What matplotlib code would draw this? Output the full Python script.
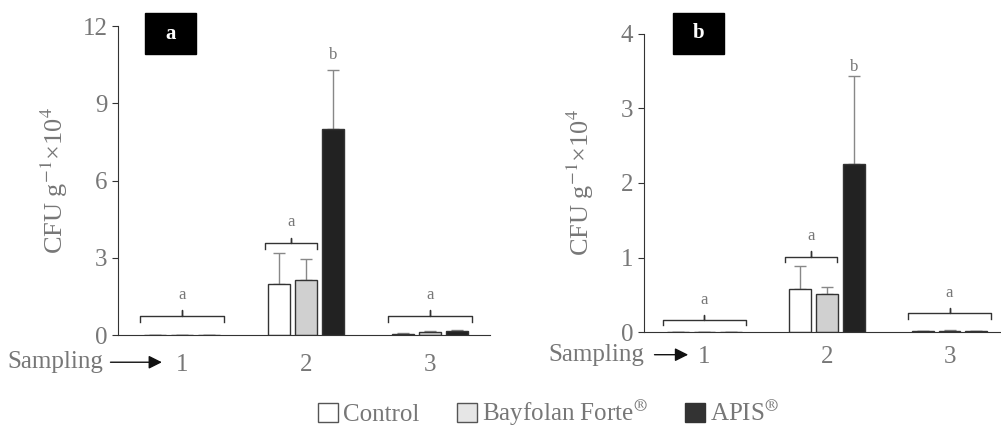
import matplotlib.pyplot as plt
from matplotlib.patches import Patch, Rectangle
import numpy as np

plt.rcParams["font.family"] = ["Liberation Serif", "DejaVu Serif"]
plt.rcParams["mathtext.fontset"] = "stix"

samplings = ["1", "2", "3"]
treatments = ["Control", "Bayfolan Forte$^{\u00ae}$", "APIS$^{\u00ae}$"]

# panel a (CFU g-1 x 10^4)
a_control = [0.01, 2.0, 0.05]
a_bayfolan = [0.01, 2.15, 0.10]
a_apis = [0.01, 8.0, 0.15]
a_control_err = [0.0, 1.17, 0.02]
a_bayfolan_err = [0.0, 0.79, 0.04]
a_apis_err = [0.0, 2.3, 0.05]

# panel b
b_control = [0.005, 0.58, 0.01]
b_bayfolan = [0.0, 0.51, 0.02]
b_apis = [0.005, 2.26, 0.01]
b_control_err = [0.0, 0.30, 0.005]
b_bayfolan_err = [0.0, 0.10, 0.01]
b_apis_err = [0.0, 1.18, 0.005]

# significance letters: (center x, half width, bracket y, letter)
a_brackets = [(1.0, 0.34, 0.74, "a"), (1.88, 0.21, 3.57, "a"), (3.0, 0.34, 0.74, "a")]
b_brackets = [(1.0, 0.34, 0.16, "a"), (1.87, 0.21, 1.01, "a"), (3.0, 0.34, 0.25, "a")]

FILLS = ["white", "#d0d0d0", "#222222"]
EDGE = "#333333"
GREY = "#777777"


def draw_panel(ax, series, errs, brackets, ymax, step, label, xlim, b_letter_y,
               samp, box, xpad, ypad):
    x = np.arange(1, len(samplings) + 1)
    w = 0.177
    gap = 0.218
    for i, (vals, err) in enumerate(zip(series, errs)):
        pos = x + (i - 1) * gap
        ax.bar(pos, vals, width=w, color=FILLS[i], edgecolor=EDGE, linewidth=1, zorder=2)
        ax.errorbar(pos, vals, yerr=[np.zeros(len(err)), err], fmt="none",
                    ecolor="#888888", elinewidth=1, capsize=4, capthick=1, zorder=1)

    d = ymax * 0.018
    for cx, hw, by, letter in brackets:
        ax.plot([cx - hw, cx - hw, cx, cx, cx, cx + hw, cx + hw],
                [by - d, by, by, by + d, by, by, by - d],
                color=EDGE, lw=1, clip_on=False)
        ax.text(cx, by + 2.3 * d, letter, ha="center", va="bottom",
                fontsize=12, color=GREY)

    # letter above the APIS bar at sampling 2
    ax.text(2 + gap, b_letter_y, "b", ha="center", va="bottom", fontsize=12, color=GREY)

    ax.set_xlim(*xlim)
    ax.set_ylim(0, ymax)
    ax.set_yticks(np.arange(0, ymax + 0.01, step))
    ax.set_xticks(x)
    ax.set_xticklabels(samplings)
    ax.tick_params(axis="x", length=0, pad=xpad, labelsize=18, labelcolor=GREY)
    ax.tick_params(axis="y", length=4, direction="out", labelsize=18,
                   labelcolor=GREY, color=EDGE)
    for s in ["top", "right"]:
        ax.spines[s].set_visible(False)
    ax.spines["left"].set_color(EDGE)
    ax.spines["bottom"].set_color(EDGE)
    ax.set_ylabel("CFU g$^{-1}$\u00d710$^{4}$", fontsize=19, color=GREY, labelpad=ypad)

    trans = ax.get_xaxis_transform()
    ax.text(samp[0], samp[3], "Sampling", ha="right", va="center",
            fontsize=18, color=GREY, transform=trans)
    ax.annotate("", xy=(samp[2], samp[3]), xytext=(samp[1], samp[3]),
                xycoords=trans, textcoords=trans,
                arrowprops=dict(arrowstyle="-|>", color="#111111", lw=1,
                                mutation_scale=20))

    ax.add_patch(Rectangle((box[0], box[1]), box[2], box[3], transform=ax.transAxes,
                           facecolor="black", edgecolor="black", clip_on=False))
    ax.text(box[0] + box[2] / 2, box[1] + box[3] / 2, label, transform=ax.transAxes,
            ha="center", va="center", fontsize=15, fontweight="bold", color="white")


fig = plt.figure(figsize=(10.01, 4.29), dpi=100)
ax_a = fig.add_axes([0.118, 0.219, 0.372, 0.720])
ax_b = fig.add_axes([0.643, 0.226, 0.357, 0.695])

draw_panel(ax_a, [a_control, a_bayfolan, a_apis],
           [a_control_err, a_bayfolan_err, a_apis_err],
           a_brackets, 12, 3, "a", (0.484, 3.49), 10.55,
           (0.365, 0.40, 0.86, -0.088), (0.073, 0.909, 0.137, 0.133), 14, 9)
draw_panel(ax_b, [b_control, b_bayfolan, b_apis],
           [b_control_err, b_bayfolan_err, b_apis_err],
           b_brackets, 4, 1, "b", (0.504, 3.42), 3.45,
           (0.512, 0.57, 0.89, -0.076), (0.081, 0.933, 0.143, 0.137), 10, 18)

handles = [Patch(facecolor="white", edgecolor="#555555"),
           Patch(facecolor="#e6e6e6", edgecolor="#555555"),
           Patch(facecolor="#333333", edgecolor="#333333")]
leg = fig.legend(handles, treatments, loc="center", bbox_to_anchor=(0.548, 0.037),
                 ncol=3, frameon=False, fontsize=18, handlelength=0.8,
                 handleheight=0.8, handletextpad=0.2, columnspacing=1.5)
for t in leg.get_texts():
    t.set_color(GREY)

fig.savefig("out.png", dpi=100)
